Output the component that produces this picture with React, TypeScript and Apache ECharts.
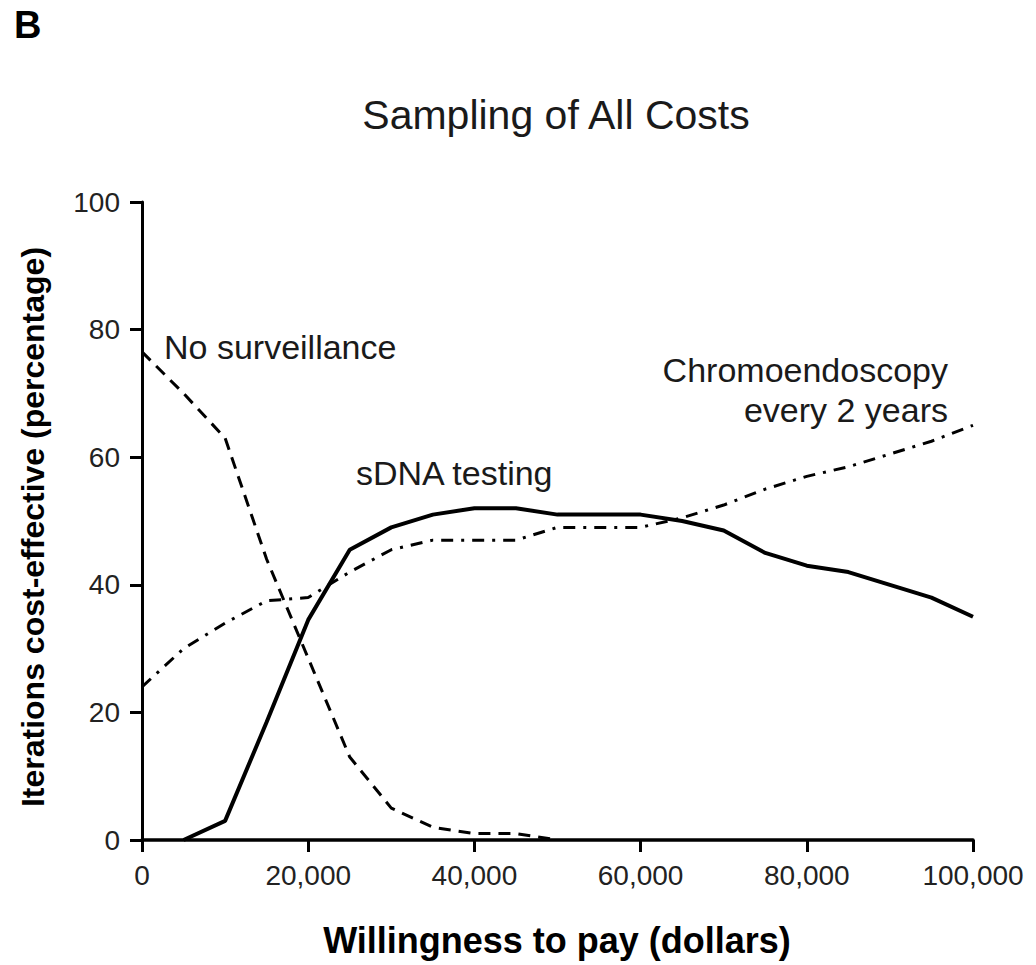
import React, { useEffect, useRef } from "react";
import * as echarts from "echarts";

const xValues = [0, 5000, 10000, 15000, 20000, 25000, 30000, 35000, 40000, 45000, 50000, 55000, 60000, 65000, 70000, 75000, 80000, 85000, 90000, 95000, 100000];

const sdnaX = [5000, 10000, 15000, 20000, 25000, 30000, 35000, 40000, 45000, 50000, 55000, 60000, 65000, 70000, 75000, 80000, 85000, 90000, 95000, 100000];
const sdnaY = [0, 3, 18.5, 34.5, 45.5, 49, 51, 52, 52, 51, 51, 51, 50, 48.5, 45, 43, 42, 40, 38, 35];

const noSurvX = [0, 5000, 10000, 15000, 20000, 25000, 30000, 35000, 40000, 45000, 50000];
const noSurvY = [76.5, 70, 63, 44, 28.5, 13, 5, 2, 1, 1, 0];

const chromoY = [24, 30, 34, 37.5, 38, 42, 45.5, 47, 47, 47, 49, 49, 49, 50.5, 52.5, 55, 57, 58.5, 60.5, 62.5, 65];

const xTicks = { min: 0, max: 100000, interval: 20000 };
const yTicks = { min: 0, max: 100, interval: 20 };

const FONT = "'Liberation Sans', Arial, Helvetica, sans-serif";

export default function App() {
  const ref = useRef<HTMLDivElement>(null);
  useEffect(() => {
    if (!ref.current) return;
    const chart = echarts.init(ref.current, undefined, { renderer: "svg" });
    const zip = (xs: number[], ys: number[]) => xs.map((x, i) => [x, ys[i]]);
    chart.setOption({
      animation: false,
      backgroundColor: "#ffffff",
      textStyle: { fontFamily: FONT, color: "#1a1a1a" },
      grid: { left: 142, top: 202, right: 63, bottom: 125, containLabel: false },
      xAxis: {
        type: "value",
        min: xTicks.min,
        max: xTicks.max,
        interval: xTicks.interval,
        splitLine: { show: false },
        axisLine: { show: true, onZero: false, lineStyle: { color: "#000", width: 3.5 } },
        axisTick: { show: true, length: 12, lineStyle: { color: "#000", width: 3 } },
        axisLabel: {
          margin: 21,
          fontSize: 28,
          fontFamily: FONT,
          color: "#222",
          formatter: (v: number) => v.toLocaleString("en-US"),
        },
      },
      yAxis: {
        type: "value",
        min: yTicks.min,
        max: yTicks.max,
        interval: yTicks.interval,
        splitLine: { show: false },
        axisLine: { show: true, onZero: false, lineStyle: { color: "#000", width: 3 } },
        axisTick: { show: true, length: 12, lineStyle: { color: "#000", width: 3 } },
        axisLabel: { margin: 22, fontSize: 28, fontFamily: FONT, color: "#222" },
      },
      series: [
        {
          name: "sDNA testing",
          type: "line",
          data: zip(sdnaX, sdnaY),
          showSymbol: false,
          symbol: "none",
          lineStyle: { color: "#000", width: 4, type: "solid" },
          z: 5,
        },
        {
          name: "No surveillance",
          type: "line",
          data: zip(noSurvX, noSurvY),
          showSymbol: false,
          symbol: "none",
          lineStyle: { color: "#000", width: 3, type: [12, 8] },
        },
        {
          name: "Chromoendoscopy every 2 years",
          type: "line",
          data: zip(xValues, chromoY),
          showSymbol: false,
          symbol: "none",
          lineStyle: { color: "#000", width: 3, type: [12, 8, 3, 8] },
        },
      ],
      graphic: [
        {
          type: "text",
          left: 14,
          top: 6,
          style: { text: "B", fontFamily: FONT, fontSize: 38, fontWeight: "bold", fill: "#000" },
        },
        {
          type: "text",
          x: 556,
          y: 115,
          style: { text: "Sampling of All Costs", fontFamily: FONT, fontSize: 41, fill: "#1a1a1a", align: "center", verticalAlign: "middle" },
        },
        {
          type: "text",
          x: 164,
          y: 347,
          style: { text: "No surveillance", fontFamily: FONT, fontSize: 34, fill: "#1a1a1a", align: "left", verticalAlign: "middle" },
        },
        {
          type: "text",
          x: 356,
          y: 473,
          style: { text: "sDNA testing", fontFamily: FONT, fontSize: 34, fill: "#1a1a1a", align: "left", verticalAlign: "middle" },
        },
        {
          type: "text",
          x: 948,
          y: 370,
          style: { text: "Chromoendoscopy", fontFamily: FONT, fontSize: 34, fill: "#1a1a1a", align: "right", verticalAlign: "middle" },
        },
        {
          type: "text",
          x: 948,
          y: 410,
          style: { text: "every 2 years", fontFamily: FONT, fontSize: 34, fill: "#1a1a1a", align: "right", verticalAlign: "middle" },
        },
        {
          type: "text",
          x: 557,
          y: 940,
          style: { text: "Willingness to pay (dollars)", fontFamily: FONT, fontSize: 36, fontWeight: "bold", fill: "#000", align: "center", verticalAlign: "middle" },
        },
        {
          type: "text",
          x: 33,
          y: 527,
          rotation: Math.PI / 2,
          style: { text: "Iterations cost-effective (percentage)", fontFamily: FONT, fontSize: 32, fontWeight: "bold", fill: "#000", align: "center", verticalAlign: "middle" },
        },
      ],
    });
    return () => chart.dispose();
  }, []);
  return (
    <div
      ref={ref}
      style={{ position: "absolute", left: 0, top: 0, width: 1036, height: 965, background: "#fff" }}
    />
  );
}
